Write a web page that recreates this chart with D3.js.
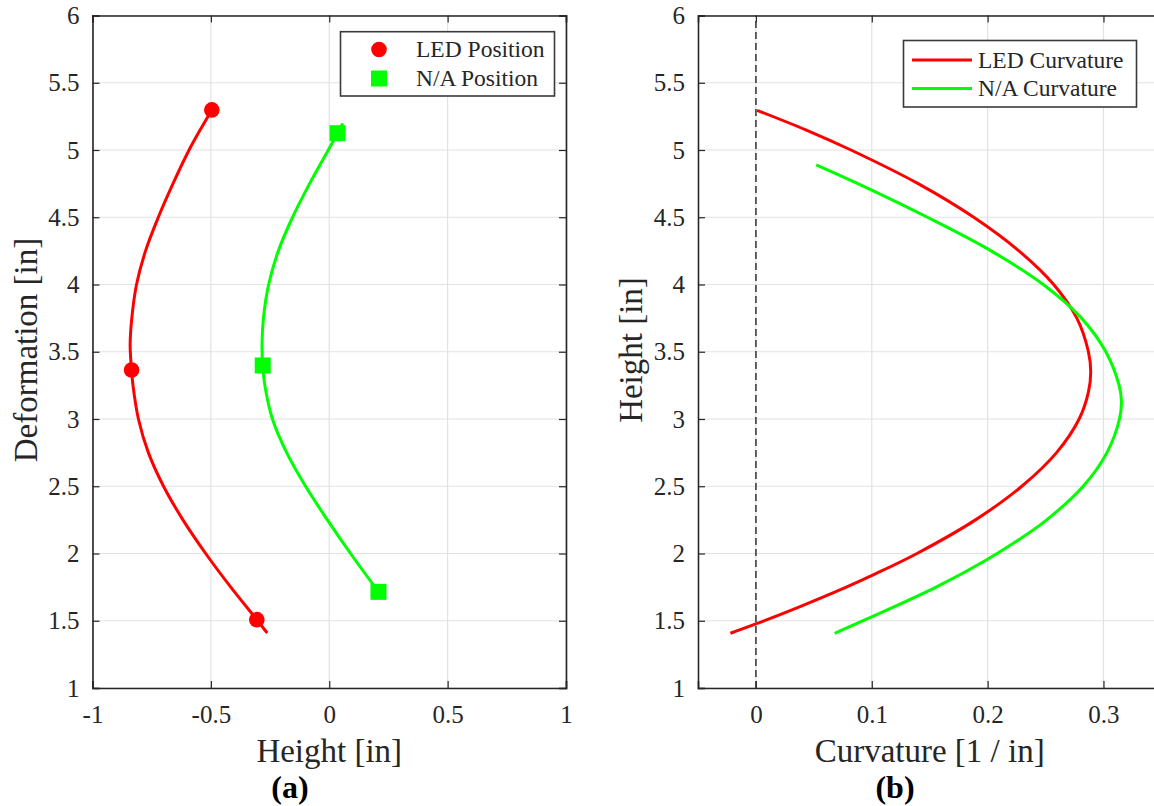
<!DOCTYPE html>
<html>
<head>
<meta charset="utf-8">
<script src="https://cdn.jsdelivr.net/npm/d3@7"></script>
<style>
  body { margin: 0; background: #fff; }
  svg { display: block; }
</style>
</head>
<body>
<svg id="chart" width="1154" height="806" font-family="Liberation Serif, Times New Roman, serif"></svg>
<script>
// ---- Panel (a): deformed shape, height vs deformation ----
const ledPathHeight = [-0.496, -0.545, -0.592, -0.660, -0.722, -0.776, -0.814, -0.834, -0.841, -0.835, -0.829, -0.806, -0.764, -0.700, -0.618, -0.522, -0.416, -0.306, -0.262];
const ledPathDeform = [5.298, 5.150, 5.000, 4.750, 4.500, 4.250, 4.000, 3.750, 3.550, 3.364, 3.250, 3.000, 2.750, 2.500, 2.250, 2.000, 1.750, 1.508, 1.409];
const ledMarkHeight = [-0.496, -0.835, -0.306];
const ledMarkDeform = [5.298, 3.364, 1.508];

const naPathHeight = [0.057, 0.035, -0.004, -0.083, -0.155, -0.215, -0.256, -0.278, -0.284, -0.281, -0.272, -0.240, -0.180, -0.100, -0.008, 0.090, 0.208];
const naPathDeform = [5.198, 5.125, 5.000, 4.750, 4.500, 4.250, 4.000, 3.750, 3.550, 3.398, 3.250, 3.000, 2.750, 2.500, 2.250, 2.000, 1.715];
const naMarkHeight = [0.035, -0.281, 0.208];
const naMarkDeform = [5.125, 3.398, 1.715];

// ---- Panel (b): curvature along the height ----
const ledCurvK = [0.001, 0.043, 0.082, 0.140, 0.188, 0.227, 0.257, 0.277, 0.287, 0.289, 0.287, 0.279, 0.2595, 0.2295, 0.1895, 0.139, 0.1035, 0.078, 0.0365, 0.001, -0.022];
const ledCurvH = [5.295, 5.150, 5.000, 4.750, 4.500, 4.250, 4.000, 3.750, 3.500, 3.350, 3.200, 3.000, 2.750, 2.500, 2.250, 2.000, 1.850, 1.750, 1.600, 1.480, 1.407];
const naCurvK = [0.052, 0.088, 0.148, 0.203, 0.248, 0.281, 0.302, 0.3135, 0.3155, 0.3138, 0.303, 0.2825, 0.251, 0.2265, 0.1985, 0.1555, 0.108, 0.068];
const naCurvH = [4.890, 4.750, 4.500, 4.250, 4.000, 3.750, 3.500, 3.250, 3.130, 3.000, 2.750, 2.500, 2.250, 2.100, 1.950, 1.750, 1.560, 1.407];

// ---- Axis ticks ----
const yTicks = [1, 1.5, 2, 2.5, 3, 3.5, 4, 4.5, 5, 5.5, 6];
const xTicksA = [-1, -0.5, 0, 0.5, 1];
const xTicksB = [0, 0.1, 0.2, 0.3];

const RED = "#ff0000", GREEN = "#00ff00";
const INK = "#262626", GRID = "#e2e2e2";
const SERIF = "Liberation Serif, Times New Roman, serif";
const svg = d3.select("#chart");

function panel(cfg) {
  const g = svg.append("g");
  const x = d3.scaleLinear().domain(cfg.xDomain).range(cfg.xRange);
  const y = d3.scaleLinear().domain([1, 6]).range([688, 15.5]);
  const [L, R] = cfg.xRange, T = 15.5, B = 688;

  // grid
  g.append("g").selectAll("line").data(cfg.xTicks).join("line")
    .attr("x1", d => x(d)).attr("x2", d => x(d)).attr("y1", T).attr("y2", B)
    .attr("stroke", GRID).attr("stroke-width", 1.2);
  g.append("g").selectAll("line").data(yTicks).join("line")
    .attr("x1", L).attr("x2", R).attr("y1", d => y(d)).attr("y2", d => y(d))
    .attr("stroke", GRID).attr("stroke-width", 1.2);

  // axes (ticks point inward on all four sides)
  const label = d => String(d);
  const ax = g.append("g").attr("transform", `translate(0,${B})`)
    .call(d3.axisBottom(x).tickValues(cfg.xTicks).tickSize(-7).tickPadding(17.5).tickFormat(label));
  const ay = g.append("g").attr("transform", `translate(${L},0)`)
    .call(d3.axisLeft(y).tickValues(yTicks).tickSize(-7).tickPadding(13).tickFormat(label));
  const at = g.append("g").attr("transform", `translate(0,${T})`)
    .call(d3.axisTop(x).tickValues(cfg.xTicks).tickSize(-7).tickFormat(""));
  const ar = g.append("g").attr("transform", `translate(${R},0)`)
    .call(d3.axisRight(y).tickValues(yTicks).tickSize(-7).tickFormat(""));
  [ax, ay, at, ar].forEach(a => {
    a.attr("font-family", SERIF).attr("font-size", 25);
    a.select(".domain").attr("stroke", INK).attr("stroke-width", 1.6);
    a.selectAll(".tick line").attr("stroke", INK).attr("stroke-width", 1.2);
    a.selectAll(".tick text").attr("fill", INK);
  });

  // axis titles
  g.append("text").attr("x", (L + R) / 2).attr("y", 762).attr("text-anchor", "middle")
    .attr("font-size", 33).attr("fill", INK).text(cfg.xLabel);
  g.append("text").attr("transform", `translate(${cfg.yLabelX},350) rotate(-90)`)
    .attr("text-anchor", "middle").attr("font-size", 33).attr("fill", INK).text(cfg.yLabel);
  g.append("text").attr("x", cfg.tagX).attr("y", 798).attr("text-anchor", "middle")
    .attr("font-size", 32).attr("font-weight", "bold").attr("fill", "#000").text(cfg.tag);

  const plot = g.append("g");
  return { g, plot, x, y };
}

// smooth centripetal spline through the sampled points of each profile
const line = (x, y) => d3.line().x(d => x(d[0])).y(d => y(d[1])).curve(d3.curveCatmullRom.alpha(0.5));
const profile = (xs, ys) => d3.zip(xs, ys).sort((a, b) => a[1] - b[1]);

// ================= Panel (a) =================
const A = panel({
  xDomain: [-1, 1], xRange: [92.5, 566], xTicks: xTicksA,
  xLabel: "Height [in]", yLabel: "Deformation [in]", yLabelX: 37, tag: "(a)", tagX: 290
});
A.plot.append("path").datum(profile(ledPathHeight, ledPathDeform))
  .attr("d", line(A.x, A.y)).attr("fill", "none").attr("stroke", RED).attr("stroke-width", 3);
A.plot.append("path").datum(profile(naPathHeight, naPathDeform))
  .attr("d", line(A.x, A.y)).attr("fill", "none").attr("stroke", GREEN).attr("stroke-width", 3);
A.plot.append("g").selectAll("circle").data(d3.zip(ledMarkHeight, ledMarkDeform)).join("circle")
  .attr("cx", d => A.x(d[0])).attr("cy", d => A.y(d[1])).attr("r", 7.8).attr("fill", RED);
A.plot.append("g").selectAll("rect").data(d3.zip(naMarkHeight, naMarkDeform)).join("rect")
  .attr("x", d => A.x(d[0]) - 8).attr("y", d => A.y(d[1]) - 8).attr("width", 16).attr("height", 16).attr("fill", GREEN);

// legend (a)
const legA = A.g.append("g").attr("font-size", 23.5).attr("fill", INK);
legA.append("rect").attr("x", 340.5).attr("y", 31.7).attr("width", 214).attr("height", 64.3)
  .attr("fill", "#fff").attr("stroke", "#3a3a3a").attr("stroke-width", 1.6);
legA.append("circle").attr("cx", 379).attr("cy", 49.5).attr("r", 7.8).attr("fill", RED);
legA.append("rect").attr("x", 371).attr("y", 70.5).attr("width", 16).attr("height", 16).attr("fill", GREEN);
legA.append("text").attr("x", 416).attr("y", 49.5).attr("dy", "0.34em").text("LED Position");
legA.append("text").attr("x", 416).attr("y", 78.5).attr("dy", "0.34em").text("N/A Position");

// ================= Panel (b) =================
const B = panel({
  xDomain: [-0.05, 0.35], xRange: [698, 1161.4], xTicks: xTicksB,
  xLabel: "Curvature [1 / in]", yLabel: "Height [in]", yLabelX: 642, tag: "(b)", tagX: 895
});
B.plot.append("line").attr("x1", B.x(0)).attr("x2", B.x(0)).attr("y1", B.y(1)).attr("y2", B.y(6))
  .attr("stroke", "#333").attr("stroke-width", 1.5).attr("stroke-dasharray", "7,4");
B.plot.append("path").datum(profile(ledCurvK, ledCurvH))
  .attr("d", line(B.x, B.y)).attr("fill", "none").attr("stroke", RED).attr("stroke-width", 3);
B.plot.append("path").datum(profile(naCurvK, naCurvH))
  .attr("d", line(B.x, B.y)).attr("fill", "none").attr("stroke", GREEN).attr("stroke-width", 3);

// legend (b)
const legB = B.g.append("g").attr("font-size", 23.5).attr("fill", INK);
legB.append("rect").attr("x", 903.5).attr("y", 40.5).attr("width", 233).attr("height", 66.5)
  .attr("fill", "#fff").attr("stroke", "#3a3a3a").attr("stroke-width", 1.6);
legB.append("line").attr("x1", 912).attr("x2", 972).attr("y1", 60).attr("y2", 60).attr("stroke", RED).attr("stroke-width", 3);
legB.append("line").attr("x1", 912).attr("x2", 972).attr("y1", 88.5).attr("y2", 88.5).attr("stroke", GREEN).attr("stroke-width", 3);
legB.append("text").attr("x", 978).attr("y", 60).attr("dy", "0.34em").text("LED Curvature");
legB.append("text").attr("x", 978).attr("y", 88.5).attr("dy", "0.34em").text("N/A Curvature");
</script>
</body>
</html>
